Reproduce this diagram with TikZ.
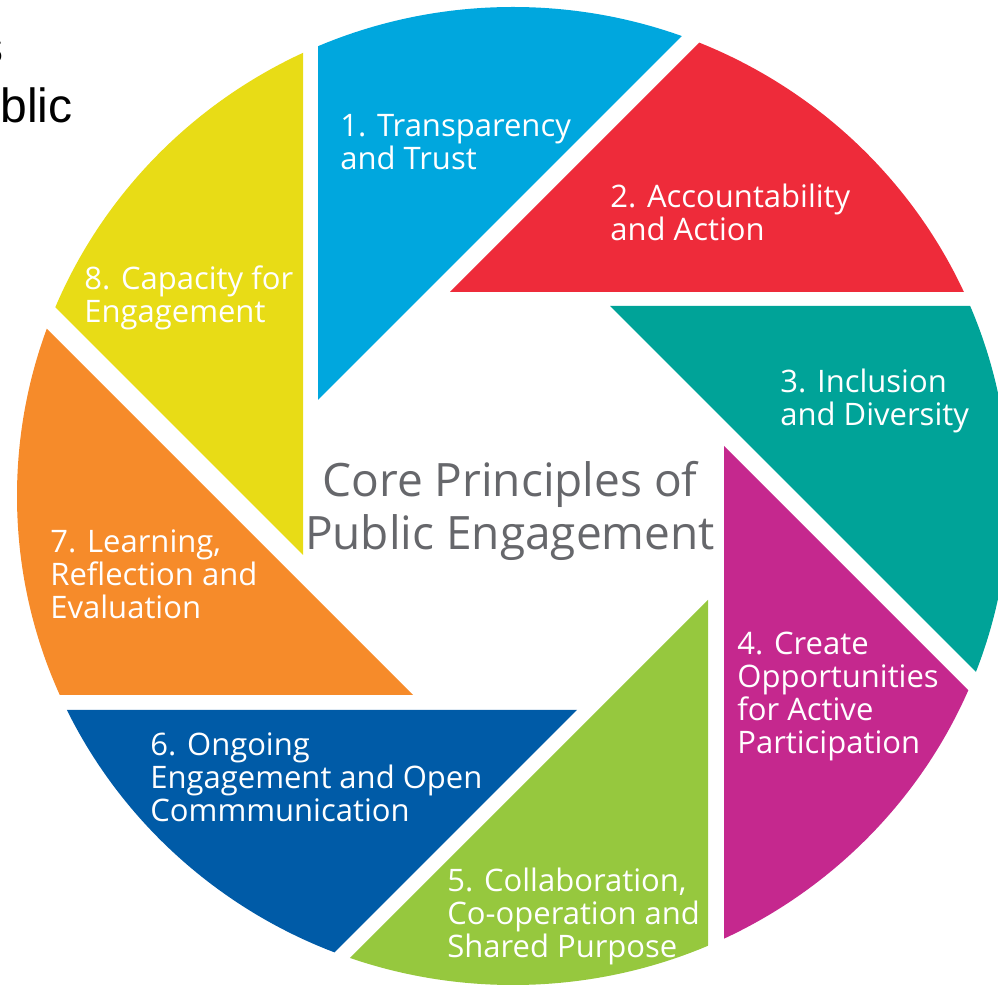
\documentclass[tikz,border=0pt]{standalone}
\usepackage{fontspec}
\setmainfont{Open Sans}
\newfontfamily\slidefont{Liberation Sans}
\definecolor{trustblue}{HTML}{00A7DE}
\definecolor{actionred}{HTML}{EE2B3A}
\definecolor{inclteal}{HTML}{00A398}
\definecolor{partmagenta}{HTML}{C5288E}
\definecolor{collabgreen}{HTML}{96C83E}
\definecolor{commblue}{HTML}{005BA7}
\definecolor{learnorange}{HTML}{F68B2A}
\definecolor{capyellow}{HTML}{E8DC16}
\definecolor{coregray}{HTML}{66676B}

\begin{document}
\begin{tikzpicture}[
                    x=0.5pt,
                    y=-0.5pt,
                    bladetext/.style={text=white,inner sep=0pt,anchor=base west,align=left,
                                      font=\fontsize{15.5}{16.5}\selectfont},
                    coretext/.style={text=coregray,inner sep=0pt,anchor=base,align=center,
                                     font=\fontsize{23}{26.5}\selectfont},
                    slidetext/.style={text=black,inner sep=0pt,anchor=base east,
                                      font=\slidefont\fontsize{24}{28}\selectfont}
                ]
                \useasboundingbox (0,0) rectangle (998,989);

                \begin{scope}
                \clip (513,496) ellipse [x radius=248pt,y radius=244.5pt];
                \fill[trustblue]   (318,400) -- ++(0,-1200)  -- ++(1200,0)  -- cycle;
                \fill[actionred]   (450,292) -- ++(1200,0)   -- ++(0,-1200) -- cycle;
                \fill[inclteal]    (610,306) -- ++(1200,0)   -- ++(0,1200)  -- cycle;
                \fill[partmagenta] (724,446) -- ++(0,1200)   -- ++(1200,0)  -- cycle;
                \fill[collabgreen] (708,600) -- ++(0,1200)   -- ++(-1200,0) -- cycle;
                \fill[commblue]    (577,710) -- ++(-1200,0)  -- ++(0,1200)  -- cycle;
                \fill[learnorange] (413,695) -- ++(-1200,0)  -- ++(0,-1200) -- cycle;
                \fill[capyellow]   (303,555) -- ++(0,-1200)  -- ++(-1200,0) -- cycle;
                \end{scope}

                \node[slidetext] (S)    at (4,64)    {s};
                \node[slidetext] (Blic) at (73,123)  {blic};

                \node[bladetext] (T1) at (340,170) {1. Transparency\\and Trust};
                \node[bladetext] (T2) at (610,241) {2. Accountability\\and Action};
                \node[bladetext] (T3) at (780,426) {3. Inclusion\\and Diversity};
                \node[bladetext] (T4) at (737,754) {4. Create\\Opportunities\\for Active\\Participation};
                \node[bladetext] (T5) at (447,958) {5. Collaboration,\\Co-operation and\\Shared Purpose};
                \node[bladetext] (T6) at (150,822) {6. Ongoing\\Engagement and Open\\Commmunication};
                \node[bladetext] (T7) at (50,619)  {7. Learning,\\Reflection and\\Evaluation};
                \node[bladetext] (T8) at (84,323)  {8. Capacity for\\Engagement};

                \node[coretext] (Core) at (510,550) {Core Principles of\\Public Engagement};
            \end{tikzpicture}
\end{document}
